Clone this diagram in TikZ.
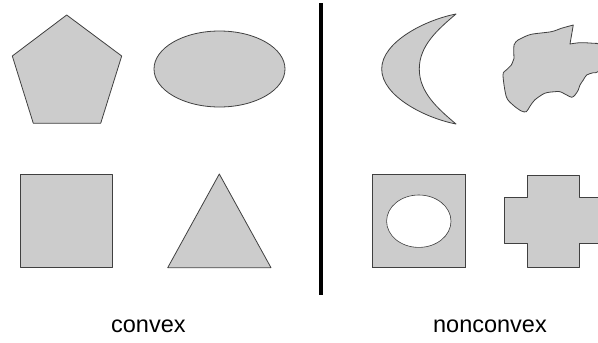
\documentclass[tikz,border=0pt]{standalone}
\usepackage{fontspec}
\setmainfont{Liberation Sans}
\definecolor{shapefill}{HTML}{CCCCCC}
\definecolor{shapeline}{HTML}{404040}
\begin{document}
\begin{tikzpicture}[x=1pt,y=-1pt,
  gshape/.style={fill=shapefill,draw=shapeline,line width=0.8pt,line join=round},
  caption/.style={font=\fontsize{23.5}{28}\selectfont,anchor=base,inner sep=0pt}]
\useasboundingbox (0,0) rectangle (598,343);
\begin{scope}
\clip (0,0) rectangle (598,343);
% pentagon
\draw[gshape] (66.7,15) -- (121.7,56) -- (100.7,123.3) -- (33.3,123.3) -- (12.3,56) -- cycle;
% ellipse
\draw[gshape] (219.5,69) ellipse [x radius=65.5, y radius=38];
% square
\draw[gshape] (20.7,174.7) rectangle (112.7,267.7);
% triangle
\draw[gshape] (219.3,174) -- (271,267.7) -- (167.7,267.7) -- cycle;
% divider
\draw[line width=3.4pt,black] (321,3) -- (321,295);
% crescent
\draw[gshape] (456,14) .. controls (425,20) and (381.7,42) .. (381.7,69)
  .. controls (381.7,96) and (425,118) .. (456,124)
  .. controls (437,108) and (419.3,92) .. (419.3,69)
  .. controls (419.3,46) and (437,30) .. (456,14) -- cycle;
% blob
\draw[gshape] plot[smooth,tension=0.5] coordinates {(514,58.3) (514,45) (518,40) (521.3,38.3) (531.3,34.3) (551.3,31.7) (561.3,28.3) (573.3,25)}
  -- plot[smooth,tension=0.5] coordinates {(570,44) (580,42.7) (593.3,43.3) (600,45) (603,60) (598,71.7) (593.3,72.7) (586.7,75) (583.3,80) (580,85) (578.3,90) (575,95) (571.7,97.3) (566.7,95) (560,91.7) (554.7,91.7) (544.7,93.3) (534.7,100) (529.7,106.7) (526.3,111.7) (521.3,111) (513,105) (506.3,96.7) (503,75) (506.3,70) (511.3,65) (514,58.3)} -- cycle;
% square with hole
\fill[shapefill,even odd rule] (372.7,174) rectangle (465,267.7) (418.8,221.2) ellipse [x radius=32.2, y radius=26.2];
\draw[shapeline,line width=0.8pt] (372.7,174) rectangle (465,267.7);
\draw[shapeline,line width=0.6pt] (418.8,221.2) ellipse [x radius=32.2, y radius=26.2];
% cross
\draw[gshape] (527.3,175) -- (579,175) -- (579,197.7) -- (601.7,197.7) -- (601.7,243.3) -- (579,243.3) -- (579,267.3) -- (527.3,267.3) -- (527.3,243.3) -- (504.3,243.3) -- (504.3,197.7) -- (527.3,197.7) -- cycle;
\end{scope}
\node[caption] (convex) at (148.4,332) {convex};
\node[caption] (nonconvex) at (490,332) {nonconvex};
\end{tikzpicture}
\end{document}
